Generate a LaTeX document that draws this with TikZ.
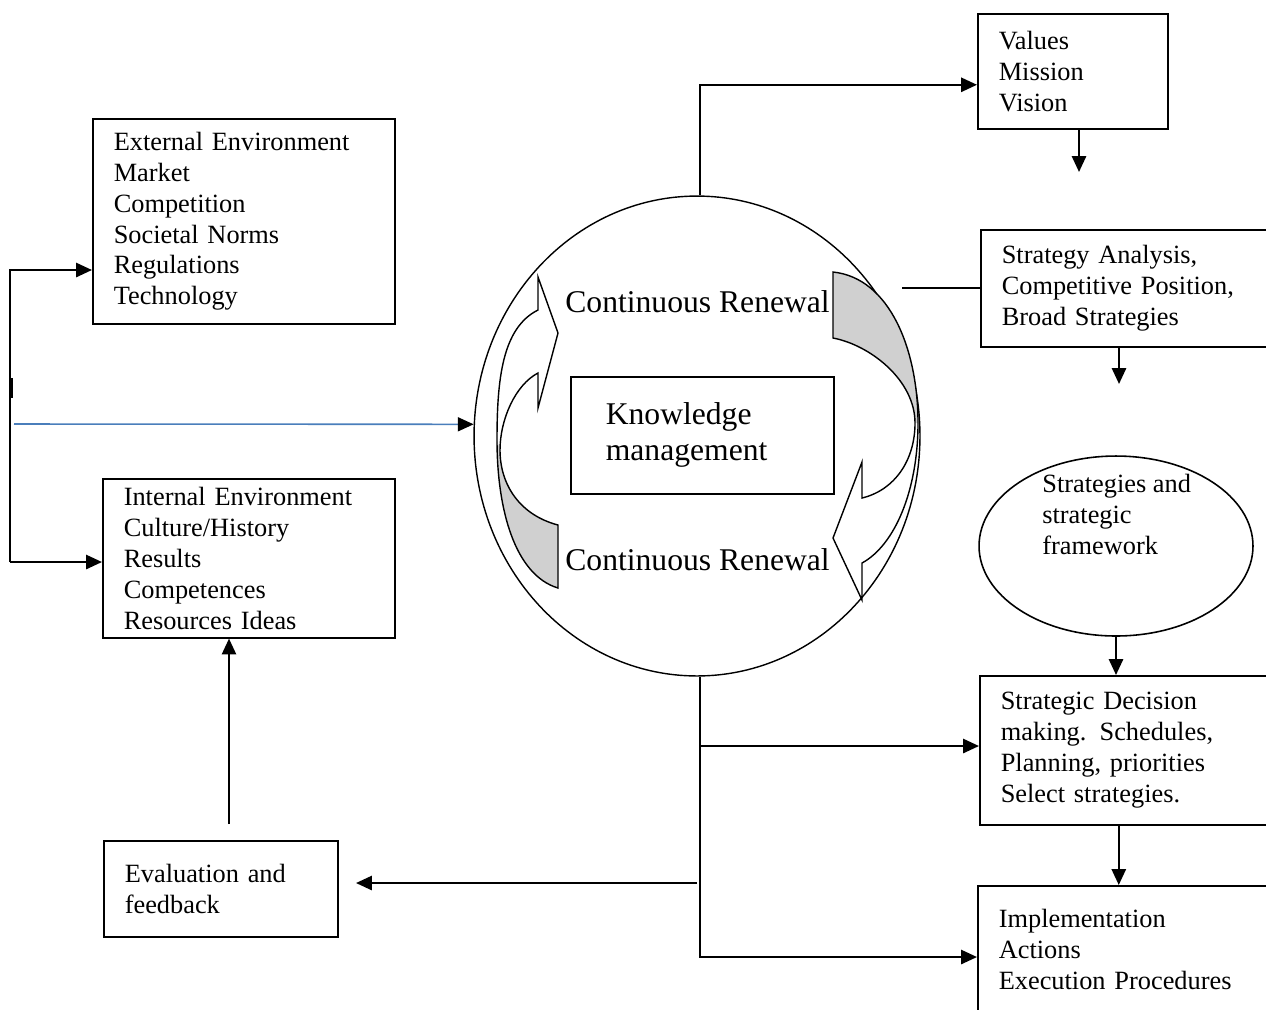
\documentclass[tikz,border=0pt]{standalone}
\usepackage{fontspec}
\setmainfont{Liberation Serif}
\usetikzlibrary{arrows.meta,shapes.geometric,positioning}

\definecolor{bandgray}{RGB}{208,208,208}
\definecolor{linkblue}{RGB}{74,126,187}

\tikzset{
    box/.style={draw, line width=0.9pt, anchor=north west, align=left,
        inner xsep=0.42cm, inner ysep=0pt, font=\fontsize{15}{17.6}\selectfont},
    bigtext/.style={font=\fontsize{18}{20.4}\selectfont},
    arr/.style={line width=1.3pt, -{Triangle[length=9pt,width=8pt]}},
    plainline/.style={line width=1.2pt},
    band/.style={line width=0.8pt, line join=miter},
}

\begin{document}
\begin{tikzpicture}[x=0.02cm, y=-0.02cm]
    \useasboundingbox (0,0) rectangle (1266,1009);
    \clip (0,0) rectangle (1266,1009);

    % environment boxes
    \node[box, text width=5.2cm, minimum height=4.1cm] (ext) at (92,118)
        {External Environment\\Market\\Competition\\Societal Norms\\Regulations\\Technology};
    \node[box, text width=5.0cm, minimum height=3.18cm] (int) at (102,478)
        {Internal Environment\\Culture/History\\Results\\Competences\\Resources Ideas};
    \node[box, text width=3.84cm, minimum height=1.92cm] (eval) at (103,840)
        {Evaluation and\\feedback};

    % centre
    \node[ellipse, draw, line width=0.8pt, minimum width=8.92cm, minimum height=9.6cm] (renew) at (697,436) {};
    \node[box, bigtext, inner xsep=0.7cm, text width=3.86cm, minimum height=2.34cm] (km) at (570,376)
        {Knowledge\\management};
    \node[bigtext, anchor=west, inner sep=0pt] (crtop) at (565,302) {Continuous Renewal};
    \node[bigtext, anchor=west, inner sep=0pt] (crbot) at (565,560) {Continuous Renewal};

    \fill[bandgray] (500,450) .. controls (500,485) and (520,515) .. (558,525) -- (558,588)
        .. controls (515,575) and (497,510) .. (497,440) -- cycle;
    \draw[band] (538,310) .. controls (502,328) and (497,380) .. (497,440)
        .. controls (497,510) and (515,575) .. (558,588) -- (558,525)
        .. controls (520,515) and (500,485) .. (500,450)
        .. controls (500,420) and (515,385) .. (538,373)
        -- (538,408) -- (558,333) -- (538,277) -- cycle;

    \fill[bandgray] (833,272) .. controls (890,278) and (918,350) .. (918,423) -- (915,423)
        .. controls (915,380) and (870,345) .. (833,338) -- cycle;
    \draw[band] (833,272) .. controls (890,278) and (918,350) .. (918,423)
        .. controls (918,490) and (895,545) .. (862,563)
        -- (862,600) -- (833,538) -- (862,462) -- (862,498)
        .. controls (895,490) and (915,460) .. (915,423)
        .. controls (915,380) and (870,345) .. (833,338) -- cycle;

    % strategy column
    \node[box, text width=2.96cm, minimum height=2.3cm] (values) at (977,13)
        {Values\\Mission\\Vision};
    \node[box, text width=4.94cm, minimum height=2.34cm] (sa) at (980,229)
        {Strategy Analysis,\\\makebox[\linewidth][s]{Competitive Position,}\\Broad Strategies};
    \node[ellipse, draw, line width=0.9pt, minimum width=5.48cm, minimum height=3.6cm, inner sep=0pt] (strat) at (1116,546) {};
    \node[anchor=north west, align=left, inner sep=0pt, font=\fontsize{15}{17.6}\selectfont] (strattxt) at (1042,474)
        {Strategies and\\strategic\\framework};
    \node[box, text width=5.0cm, minimum height=2.98cm] (sdm) at (979,675)
        {Strategic Decision\\making. Schedules,\\Planning, priorities\\Select strategies.};
    \node[box, text width=5.0cm, minimum height=2.54cm] (impl) at (977,885)
        {Implementation\\Actions\\Execution Procedures};

    % connectors
    \draw[arr] ([xshift=0.06cm]renew.north) |- ([yshift=-0.27cm]values.west);
    \coordinate (vmend) at (1079,172);
    \draw[arr] (vmend |- values.south) -- (vmend);
    \coordinate (satail) at (902,288);
    \draw[plainline] (satail) -- (satail -| sa.west);
    \coordinate (saend) at (1119,384);
    \draw[arr] (saend |- sa.south) -- (saend);
    \draw[arr] (strat.south) -- (strat.south |- sdm.north);
    \coordinate (dec2impl) at ([xshift=-0.14cm]sdm.south);
    \draw[arr] (dec2impl) -- (dec2impl |- impl.north);

    \coordinate (trunkmid) at (700,746);
    \coordinate (trunkbot) at (700,957);
    \draw[arr] ([xshift=0.06cm]renew.south) |- (trunkbot -| impl.west);
    \draw[arr] (trunkmid) -- (trunkmid -| sdm.west);
    \coordinate (fbstart) at (697,883);
    \coordinate (fbend) at (356,883);
    \draw[arr] (fbstart) -- (fbend);
    \coordinate (fbup) at (229,824);
    \draw[arr] (fbup) -- (fbup |- int.south);

    \coordinate (brtop) at (10,270);
    \coordinate (brbot) at (10,562);
    \draw[arr, line join=miter] (brbot) -- (brtop) -- (brtop -| ext.west);
    \draw[arr] (brbot) -- (brbot -| int.west);
    \draw[line width=1.1pt] (12,378) -- (12,398);

    \coordinate (bluetail) at (14,424);
    \draw[line width=0.9pt, linkblue, -{Triangle[length=9pt,width=8pt,color=black]}] (bluetail) -- (renew.177);
\end{tikzpicture}
\end{document}
